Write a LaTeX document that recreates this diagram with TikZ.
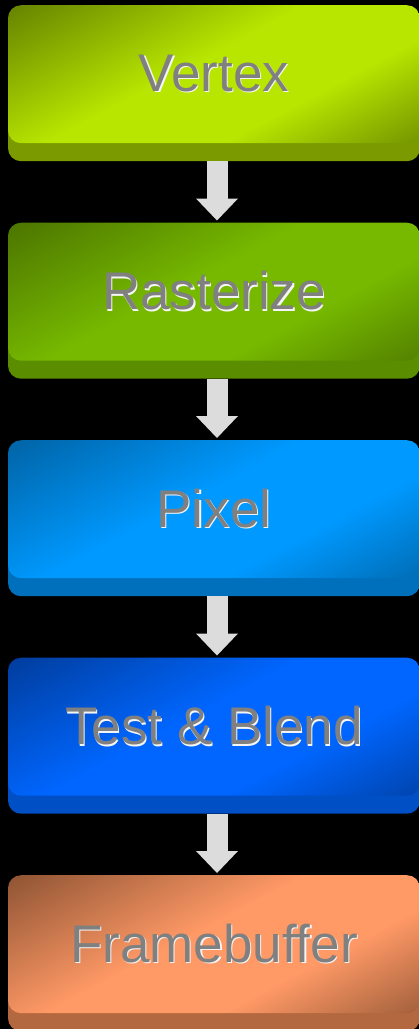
\documentclass[tikz,border=0pt]{standalone}
\usepackage{fontspec}
\setmainfont{Liberation Sans}
\usetikzlibrary{arrows.meta}

\definecolor{vertexlight}{HTML}{B8E600}
\definecolor{vertexdark}{HTML}{5A7500}
\definecolor{vertexbase}{HTML}{7A9A00}
\definecolor{rasterlight}{HTML}{76B900}
\definecolor{rasterdark}{HTML}{466B00}
\definecolor{rasterbase}{HTML}{5A8E00}
\definecolor{pixellight}{HTML}{0099FF}
\definecolor{pixeldark}{HTML}{005C99}
\definecolor{pixelbase}{HTML}{0070BC}
\definecolor{blendlight}{HTML}{0066FF}
\definecolor{blenddark}{HTML}{00378F}
\definecolor{blendbase}{HTML}{004FC4}
\definecolor{framelight}{HTML}{FF9966}
\definecolor{framedark}{HTML}{7F4A2C}
\definecolor{framebase}{HTML}{B3683F}
\definecolor{labelgray}{HTML}{808080}
\definecolor{arrowgray}{HTML}{DCDCDC}

\colorlet{stagedark}{black}
\colorlet{stagelight}{white}
\pgfdeclareverticalshading[stagedark,stagelight]{stagebevel}{100bp}{color(0bp)=(stagedark); color(14bp)=(stagedark!80!stagelight); color(36bp)=(stagelight); color(54bp)=(stagelight); color(88bp)=(stagedark); color(100bp)=(stagedark)}

\newcommand{\glowtext}[1]{\makebox[0pt][l]{\hspace{1.2pt}\raisebox{-1.5pt}{\color{white!92!labelgray}#1}}#1}

\tikzset{
	stagecolors/.code 2 args={\colorlet{stagedark}{#1}\colorlet{stagelight}{#2}},
	stage/.style n args={3}{rectangle, rounded corners=13pt, minimum width=412pt, minimum height=138pt,
		anchor=north, text=labelgray, font=\fontsize{53}{60}\selectfont,
		preaction={fill=#3, transform canvas={yshift=-18pt}},
		stagecolors={#1}{#2}, shade, shading=stagebevel, shading angle=28},
	flow/.style={arrowgray, line width=21pt, -{Triangle[width=42pt,length=22pt,line width=0pt]}}
}

\begin{document}
\begin{tikzpicture}[x=1pt,y=-1pt]
	%========
	%Background
	%========
	\fill[black] (0,0) rectangle (419,1029);
	\useasboundingbox (0,0) rectangle (419,1029);

	%========
	%Stages
	%========
	\node[stage={vertexdark}{vertexlight}{vertexbase}] (vertex) at (214,5) {\glowtext{Vertex}};
	\node[stage={rasterdark}{rasterlight}{rasterbase}] (raster) at (214,222.5) {\glowtext{Rasterize}};
	\node[stage={pixeldark}{pixellight}{pixelbase}] (pixel) at (214,440) {\glowtext{Pixel}};
	\node[stage={blenddark}{blendlight}{blendbase}] (blend) at (214,657.5) {\glowtext{Test \& Blend}};
	\node[stage={framedark}{framelight}{framebase}] (frame) at (214,875) {\glowtext{Framebuffer}};

	%========
	%Arrows
	%========
	\draw[flow] ([xshift=3pt,yshift=-18pt]vertex.south) -- ([xshift=3pt,yshift=2pt]raster.north);
	\draw[flow] ([xshift=3pt,yshift=-18pt]raster.south) -- ([xshift=3pt,yshift=2pt]pixel.north);
	\draw[flow] ([xshift=3pt,yshift=-18pt]pixel.south) -- ([xshift=3pt,yshift=2pt]blend.north);
	\draw[flow] ([xshift=3pt,yshift=-18pt]blend.south) -- ([xshift=3pt,yshift=2pt]frame.north);
\end{tikzpicture}
\end{document}
